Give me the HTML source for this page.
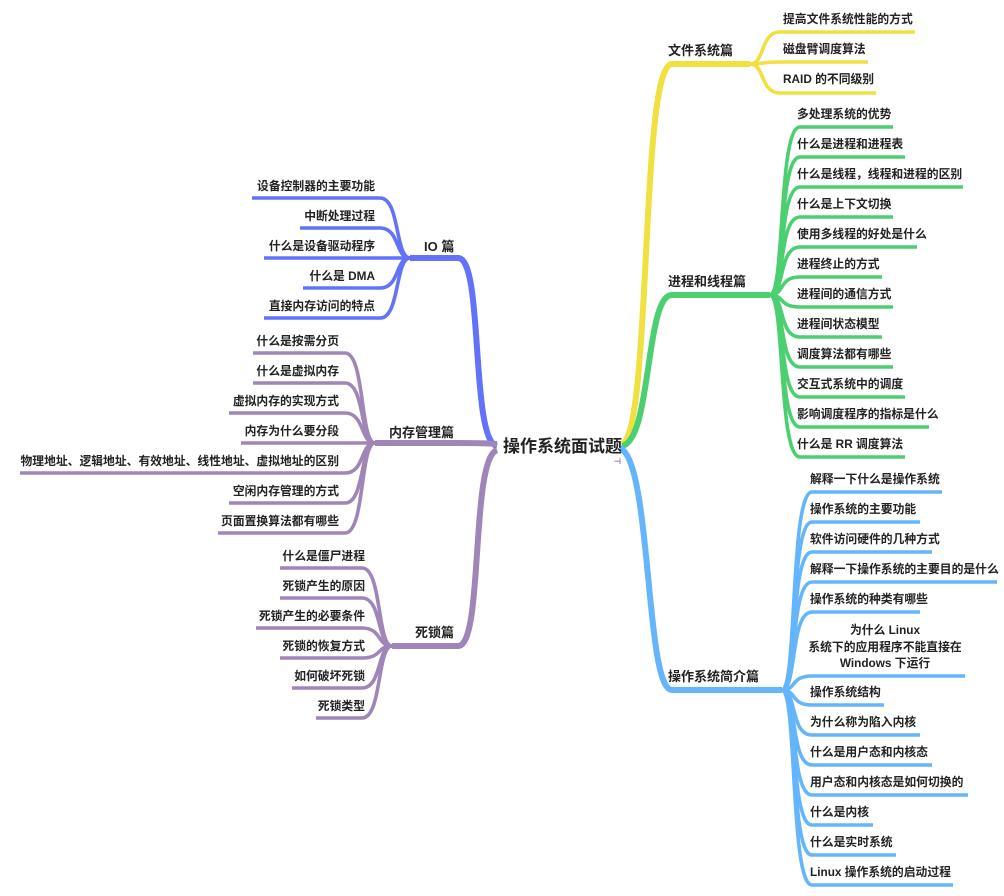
<!DOCTYPE html>
<html><head><meta charset="utf-8"><style>
html,body{margin:0;padding:0;background:#fff;}
svg{display:block;}
text{font-family:"Liberation Sans","Noto Sans CJK SC",sans-serif;font-weight:bold;fill:#222;font-size:11.8px;}
.b{font-size:13px;}
.c{font-size:17px;}
path{fill:none;stroke-linecap:butt;}
.y{stroke:#f0e040}.g{stroke:#4ccf70}.bl{stroke:#64b5fb}.io{stroke:#6272f9}.p{stroke:#a086b8}
.m{stroke-width:6}.l{stroke-width:3.6}
</style></head><body>
<svg width="1004" height="896" viewBox="0 0 1004 896" xmlns="http://www.w3.org/2000/svg">
<!-- main branches -->
<path class="y m" d="M622,444 C652,430 640,64 672,64 L750,64"/>
<path class="g m" d="M622,446 C652,440 645,295 672,295 L770,295"/>
<path class="bl m" d="M620,448 C652,462 645,690 672,690 L782,690"/>
<path class="io m" d="M497,446 C470,440 484,258 458,258 L410,258"/>
<path class="p m" d="M497,444 C485,443 470,443 455,443 L375,443"/>
<path class="p m" d="M497,450 C470,460 484,646 458,646 L392,646"/>

<text x="503" y="452" class="c">操作系统面试题</text>
<text x="668" y="55" class="b">文件系统篇</text>
<text x="668" y="286" class="b">进程和线程篇</text>
<text x="668" y="681" class="b">操作系统简介篇</text>
<text x="424" y="251" class="b">IO 篇</text>
<text x="389" y="437" class="b">内存管理篇</text>
<text x="415" y="637" class="b">死锁篇</text>

<!-- yellow leaves -->
<path class="y l" d="M750,64 C765,64 760,32 780,32 L915,32"/>
<path class="y l" d="M750,64 C765,64 760,62 780,62 L868,62"/>
<path class="y l" d="M750,64 C765,64 760,93 780,93 L876,93"/>
<text x="783" y="23">提高文件系统性能的方式</text>
<text x="783" y="53">磁盘臂调度算法</text>
<text x="783" y="83">RAID 的不同级别</text>

<!-- green leaves -->
<g class="g l">
<path d="M770,295 C785,295 778,127 800,127 L893,127"/>
<path d="M770,295 C785,295 778,157 800,157 L905,157"/>
<path d="M770,295 C785,295 778,187 800,187 L963,187"/>
<path d="M770,295 C785,295 778,217 800,217 L893,217"/>
<path d="M770,295 C785,295 778,247 800,247 L917,247"/>
<path d="M770,295 C785,295 778,277 800,277 L882,277"/>
<path d="M770,295 C785,295 778,307 800,307 L893,307"/>
<path d="M770,295 C785,295 778,337 800,337 L882,337"/>
<path d="M770,295 C785,295 778,367 800,367 L893,367"/>
<path d="M770,295 C785,295 778,397 800,397 L905,397"/>
<path d="M770,295 C785,295 778,427 800,427 L929,427"/>
<path d="M770,295 C785,295 778,457 800,457 L905,457"/>
</g>
<text x="797" y="118">多处理系统的优势</text>
<text x="797" y="148">什么是进程和进程表</text>
<text x="797" y="178">什么是线程，线程和进程的区别</text>
<text x="797" y="208">什么是上下文切换</text>
<text x="797" y="238">使用多线程的好处是什么</text>
<text x="797" y="268">进程终止的方式</text>
<text x="797" y="298">进程间的通信方式</text>
<text x="797" y="328">进程间状态模型</text>
<text x="797" y="358">调度算法都有哪些</text>
<text x="797" y="388">交互式系统中的调度</text>
<text x="797" y="418">影响调度程序的指标是什么</text>
<text x="797" y="448">什么是 RR 调度算法</text>

<!-- blue leaves -->
<g class="bl l">
<path d="M782,690 C797,690 790,492 812,492 L942,492"/>
<path d="M782,690 C797,690 790,522 812,522 L920,522"/>
<path d="M782,690 C797,690 790,552 812,552 L932,552"/>
<path d="M782,690 C797,690 790,582 812,582 L997,582"/>
<path d="M782,690 C797,690 790,612 812,612 L920,612"/>
<path d="M782,690 C797,690 790,676 812,676 L965,676"/>
<path d="M782,690 C797,690 790,705 812,705 L884,705"/>
<path d="M782,690 C797,690 790,735 812,735 L920,735"/>
<path d="M782,690 C797,690 790,765 812,765 L932,765"/>
<path d="M782,690 C797,690 790,795 812,795 L968,795"/>
<path d="M782,690 C797,690 790,825 812,825 L873,825"/>
<path d="M782,690 C797,690 790,855 812,855 L896,855"/>
<path d="M782,690 C797,690 790,885 812,885 L953,885"/>
</g>
<text x="810" y="483">解释一下什么是操作系统</text>
<text x="810" y="513">操作系统的主要功能</text>
<text x="810" y="543">软件访问硬件的几种方式</text>
<text x="810" y="573">解释一下操作系统的主要目的是什么</text>
<text x="810" y="603">操作系统的种类有哪些</text>
<text x="885" y="634" text-anchor="middle">为什么 Linux</text>
<text x="885" y="651" text-anchor="middle">系统下的应用程序不能直接在</text>
<text x="885" y="667" text-anchor="middle">Windows 下运行</text>
<text x="810" y="696">操作系统结构</text>
<text x="810" y="726">为什么称为陷入内核</text>
<text x="810" y="756">什么是用户态和内核态</text>
<text x="810" y="786">用户态和内核态是如何切换的</text>
<text x="810" y="816">什么是内核</text>
<text x="810" y="846">什么是实时系统</text>
<text x="810" y="876">Linux 操作系统的启动过程</text>

<!-- IO leaves -->
<g class="io l">
<path d="M410,258 C395,258 400,198 380,198 L252,198"/>
<path d="M410,258 C395,258 400,228 380,228 L300,228"/>
<path d="M410,258 C395,258 400,258 380,258 L264,258"/>
<path d="M410,258 C395,258 400,288 380,288 L303,288"/>
<path d="M410,258 C395,258 400,318 380,318 L264,318"/>
</g>
<g text-anchor="end">
<text x="375" y="190">设备控制器的主要功能</text>
<text x="375" y="220">中断处理过程</text>
<text x="375" y="250">什么是设备驱动程序</text>
<text x="375" y="280">什么是 DMA</text>
<text x="375" y="310">直接内存访问的特点</text>
</g>

<!-- memory leaves -->
<g class="p l">
<path d="M375,443 C360,443 365,353 345,353 L253,353"/>
<path d="M375,443 C360,443 365,383 345,383 L253,383"/>
<path d="M375,443 C360,443 365,413 345,413 L229,413"/>
<path d="M375,443 C360,443 365,443 345,443 L241,443"/>
<path d="M375,443 C360,443 365,473 345,473 L20,473"/>
<path d="M375,443 C360,443 365,503 345,503 L229,503"/>
<path d="M375,443 C360,443 365,533 345,533 L218,533"/>
</g>
<g text-anchor="end">
<text x="339" y="345">什么是按需分页</text>
<text x="339" y="375">什么是虚拟内存</text>
<text x="339" y="405">虚拟内存的实现方式</text>
<text x="339" y="435">内存为什么要分段</text>
<text x="339" y="465">物理地址、逻辑地址、有效地址、线性地址、虚拟地址的区别</text>
<text x="339" y="495">空闲内存管理的方式</text>
<text x="339" y="525">页面置换算法都有哪些</text>
</g>

<!-- deadlock leaves -->
<g class="p l">
<path d="M392,646 C377,646 382,568 362,568 L280,568"/>
<path d="M392,646 C377,646 382,598 362,598 L280,598"/>
<path d="M392,646 C377,646 382,628 362,628 L256,628"/>
<path d="M392,646 C377,646 382,658 362,658 L280,658"/>
<path d="M392,646 C377,646 382,688 362,688 L292,688"/>
<path d="M392,646 C377,646 382,718 362,718 L316,718"/>
</g>
<g text-anchor="end">
<text x="365" y="560">什么是僵尸进程</text>
<text x="365" y="590">死锁产生的原因</text>
<text x="365" y="620">死锁产生的必要条件</text>
<text x="365" y="650">死锁的恢复方式</text>
<text x="365" y="680">如何破坏死锁</text>
<text x="365" y="710">死锁类型</text>
</g>
<text x="614" y="464" style="font-size:8px;fill:#8a72a8">⊣</text>
</svg>
</body></html>
